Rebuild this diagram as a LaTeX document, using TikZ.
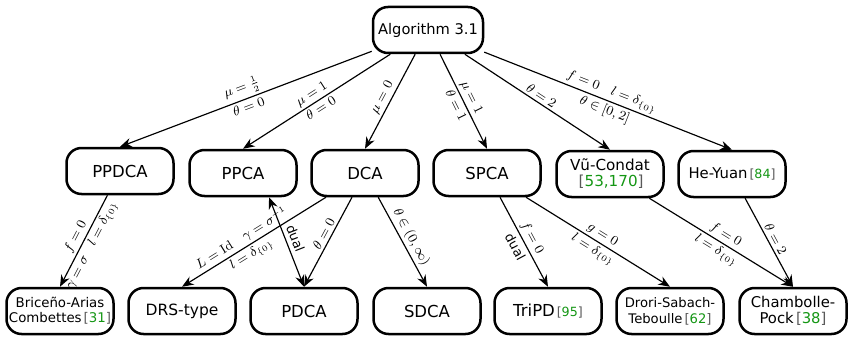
\documentclass[tikz,border=0pt]{standalone}
\usepackage{amsmath}
\usepackage{fontspec}
\setsansfont{DejaVu Sans}
\usetikzlibrary{arrows.meta}
\definecolor{citegreen}{RGB}{20,150,20}
\newcommand{\refno}[1]{\hspace{0.15em}{\color{black!65}[}{\color{citegreen}#1}{\color{black!65}]}}
\newcommand{\smallref}[1]{{\fontsize{7.6}{9}\selectfont\refno{#1}}}
\newcommand{\dzero}{\delta_{\{0\}}}

\tikzset{
  method/.style={draw, line width=1.5pt, rounded corners=9pt, minimum width=64.2pt,
    minimum height=27.6pt, inner sep=1pt, align=center,
    font=\sffamily\fontsize{9.9}{11}\selectfont},
  midtext/.style={font=\sffamily\fontsize{8.9}{9.6}\selectfont},
  smalltext/.style={font=\sffamily\fontsize{8}{9}\selectfont},
  lbl/.style={sloped, inner sep=1.5pt, font=\fontsize{7.8}{9}\selectfont},
  duallbl/.style={lbl, inner sep=2.5pt, font=\sffamily\fontsize{7.8}{9}\selectfont},
  flow/.style={-{Stealth[length=7pt,width=5.5pt]}, line width=0.7pt},
}

\begin{document}
\begin{tikzpicture}[x=0.6pt,y=0.6pt]
\useasboundingbox (0,0) rectangle (848,336);
% top
\node[method, minimum width=66pt, font=\sffamily\fontsize{8.8}{10}\selectfont] (alg) at (428,306) {Algorithm 3.1};
% middle row
\node[method] (ppdca) at (120,165) {PPDCA};
\node[method] (ppca) at (243,163) {PPCA};
\node[method] (dca) at (365,163) {DCA};
\node[method] (spca) at (487,163) {SPCA};
\node[method, font=\sffamily\fontsize{9.1}{9.6}\selectfont] (vu) at (610,162) {Vũ-Condat\\\refno{53,170}};
\node[method, midtext] (hey) at (732,162) {He-Yuan\smallref{84}};
% bottom row
\node[method, smalltext] (bric) at (60,25) {Briceño-Arias\\Combettes\refno{31}};
\node[method, font=\sffamily\fontsize{9.3}{10}\selectfont] (drs) at (182,25) {DRS-type};
\node[method] (pdca) at (304,25) {PDCA};
\node[method] (sdca) at (427,25) {SDCA};
\node[method] (tripd) at (548,25) {TriPD\smallref{95}};
\node[method, font=\sffamily\fontsize{7.9}{9.6}\selectfont] (drori) at (670,25) {Drori-Sabach-\\Teboulle\refno{62}};
\node[method, midtext] (cham) at (793,25) {Chambolle-\\Pock\refno{38}};

% from the algorithm
\draw[flow] (alg) -- node[lbl, above] {$\mu=\tfrac12$} node[lbl, below] {$\theta=0$} (ppdca.north);
\draw[flow] (alg) -- node[lbl, above] {$\mu=1$} node[lbl, below] {$\theta=0$} (ppca.north);
\draw[flow] (alg) -- node[lbl, above] {$\mu=0$} (dca.north);
\draw[flow] (alg) -- node[lbl, above] {$\mu=1$} node[lbl, below] {$\theta=1$} (spca.north);
\draw[flow] (alg) -- node[lbl, above] {$\theta=2$} (vu.north);
\draw[flow] (alg) -- node[lbl, above] {$f=0\quad l=\dzero$} node[lbl, below] {$\theta\in[0,2]$} (hey.north);

% special cases
\draw[flow] (ppdca) -- node[lbl, above] {$f=0$} node[lbl, below] {$\gamma=\sigma\quad l=\dzero$} (bric.north);
\draw[flow] (dca) -- node[lbl, above, pos=0.55] {$L=\mathrm{Id}\quad\gamma=\sigma^{-1}$} node[lbl, below, pos=0.55] {$l=\dzero$} (drs.north);
\draw[flow, {Stealth[length=7pt,width=5.5pt]}-{Stealth[length=7pt,width=5.5pt]}] (ppca.-43) -- node[duallbl, above] {dual} (pdca.north);
\draw[flow] (dca) -- node[lbl, above, pos=0.45] {$\theta=0$} (pdca.north);
\draw[flow] (dca) -- node[lbl, above] {$\theta\in(0,\infty)$} (sdca.north);
\draw[flow] (spca) -- node[lbl, above] {$f=0$} node[duallbl, below] {dual} (tripd.north);
\draw[flow] (spca) -- node[lbl, above] {$g=0$} node[lbl, below] {$l=\dzero$} (drori.north);
\draw[flow] (vu) -- node[lbl, above] {$f=0$} node[lbl, below] {$l=\dzero$} (cham.north);
\draw[flow] (hey) -- node[lbl, above] {$\theta=2$} (cham.north);
\end{tikzpicture}
\end{document}
